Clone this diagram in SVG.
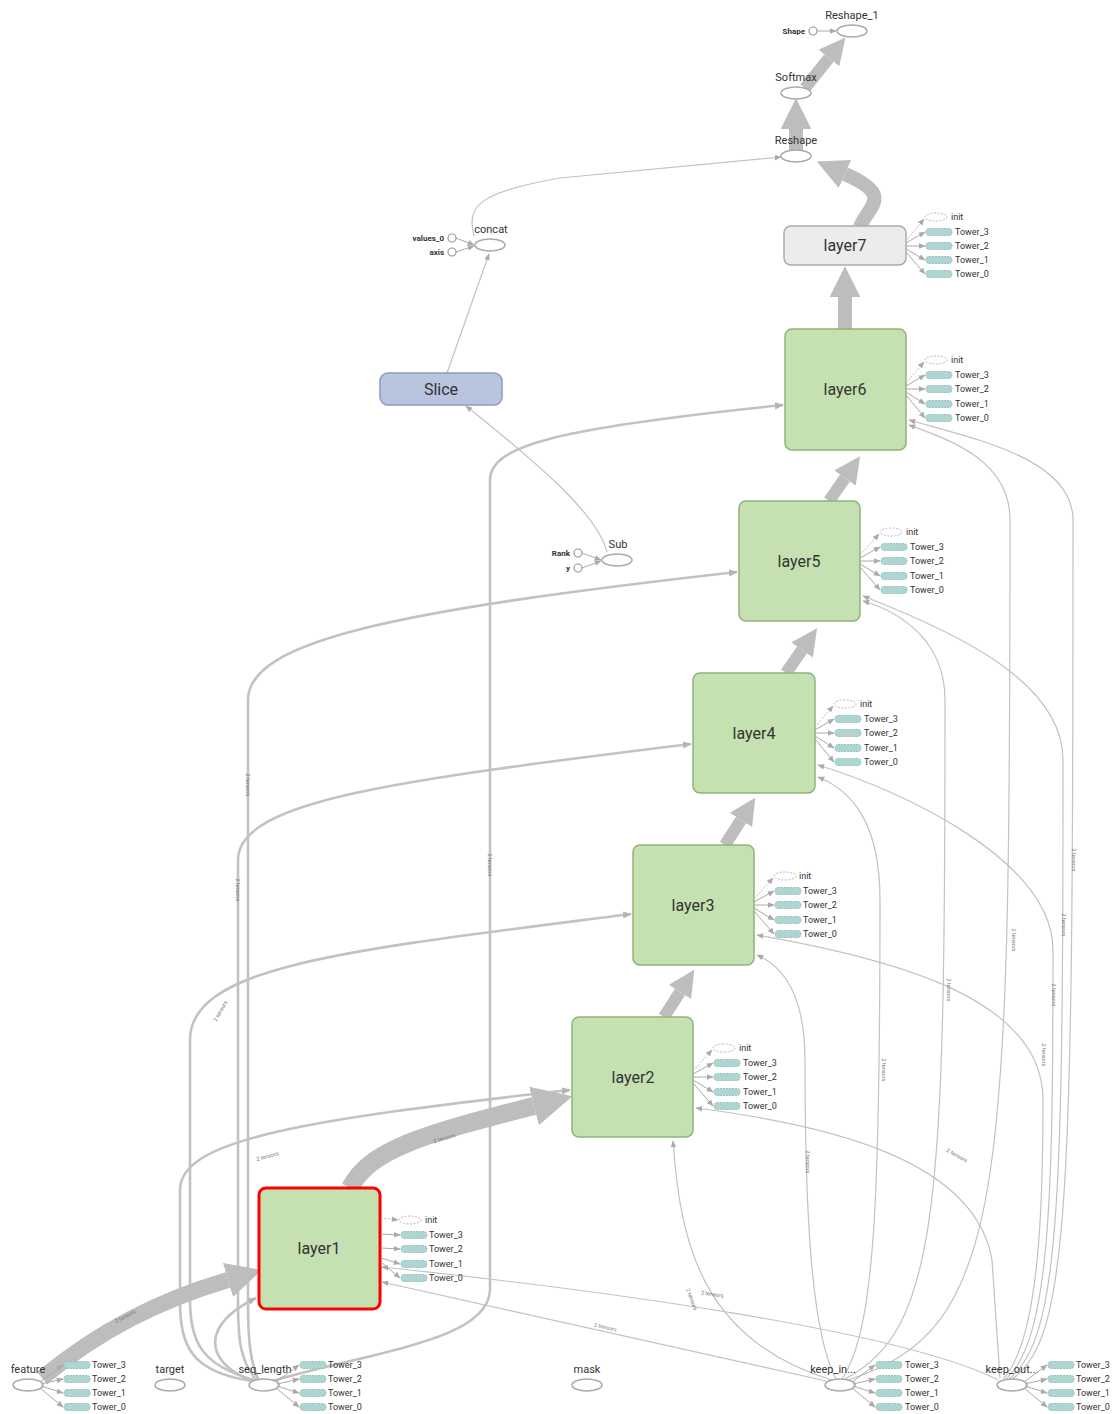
<svg xmlns="http://www.w3.org/2000/svg" width="1117" height="1414" viewBox="0 0 1117 1414">
<defs>
<style>
text{font-family:Roboto,"Liberation Sans",sans-serif;fill:#333}
.big{font-size:16px;text-anchor:middle}
.lbl{font-size:11px;text-anchor:middle}
.sm{font-size:9px}
.smr{font-size:8px;text-anchor:end}
.el{font-size:5.5px;fill:#777;text-anchor:middle}
.op{fill:#fff;stroke:#aaa;stroke-width:1.5}
.dot{fill:#fff;stroke:#999;stroke-width:1.2}
.layer{fill:#c6e1b1;stroke:#8eb379;stroke-width:1.5}
.init{fill:#fff;stroke:#bbb;stroke-width:1;stroke-dasharray:2 1.5}
.tw{fill:#afd5d3;stroke:#94c3c1;stroke-width:1;stroke-dasharray:2 1}
.th{fill:none;stroke:#bdbdbd;marker-end:url(#big)}
.e{fill:none;stroke:#c2c2c2;stroke-width:1.2;marker-end:url(#ar)}
.s{fill:none;stroke:#c2c2c2;stroke-width:2.6;marker-end:url(#ar2)}
.ax{fill:none;stroke:#aaa;stroke-width:1;marker-end:url(#ar)}
.axd{fill:none;stroke:#bbb;stroke-width:1;stroke-dasharray:2 1.5;marker-end:url(#ar)}
</style>
<marker id="big" viewBox="0 0 10 10" refX="0" refY="5" markerWidth="2.2" markerHeight="2.2" markerUnits="strokeWidth" orient="auto"><path d="M0,0 L10,5 L0,10 z" fill="#bdbdbd"/></marker>
<marker id="ar" viewBox="0 0 10 10" refX="9" refY="5" markerWidth="7" markerHeight="7" markerUnits="userSpaceOnUse" orient="auto"><path d="M0,1 L10,5 L0,9 z" fill="#aaa"/></marker>
<marker id="ar2" viewBox="0 0 10 10" refX="9" refY="5" markerWidth="9" markerHeight="9" markerUnits="userSpaceOnUse" orient="auto"><path d="M0,1 L10,5 L0,9 z" fill="#b5b5b5"/></marker>
</defs>
<rect width="1117" height="1414" fill="#fff"/>

<g id="connectors">
<path class="s" d="M272,1381 C380,1350 488,1340 490,1290 L490,480 C490,445 560,428 783,405"/>
<path class="s" d="M258,1379 C250,1360 248,1340 248,1300 L248,700 C248,640 400,610 737,572"/>
<path class="s" d="M256,1380 C240,1360 238,1340 238,1300 L238,860 C238,800 400,780 691,744"/>
<path class="s" d="M254,1380 C200,1365 190,1340 190,1300 L190,1040 C190,965 350,950 631,914"/>
<path class="s" d="M252,1381 C190,1372 180,1345 180,1300 L180,1190 C180,1140 300,1120 570,1090"/>
<path class="s" d="M250,1380 C205,1362 200,1325 256,1298"/>
<text class="el" transform="translate(246,785) rotate(90)">2 tensors</text>
<text class="el" transform="translate(236,890) rotate(90)">2 tensors</text>
<text class="el" transform="translate(488,865) rotate(90)">2 tensors</text>
<text class="el" transform="translate(222,1012) rotate(-60)">2 tensors</text>
<text class="el" transform="translate(268,1158) rotate(-15)">2 tensors</text>
<path class="e" d="M826,1381 L382,1282"/>
<path class="e" d="M832,1380 C700,1340 680,1240 673,1141"/>
<path class="e" d="M836,1379 C810,1330 805,1200 805,1060 C805,990 780,965 757,955"/>
<path class="e" d="M842,1379 C875,1330 880,1200 880,900 C880,820 850,790 818,777"/>
<path class="e" d="M845,1379 C940,1330 945,1200 945,700 C945,640 900,612 863,601"/>
<path class="e" d="M848,1380 C1005,1330 1010,1200 1010,520 C1010,460 950,440 909,425"/>
<path class="e" d="M998,1380 C900,1330 600,1290 382,1267"/>
<path class="e" d="M1000,1378 L992,1260 C975,1160 830,1125 696,1108"/>
<path class="e" d="M1003,1379 C1040,1340 1043,1200 1043,1100 C1043,1000 900,960 757,935"/>
<path class="e" d="M1006,1379 C1050,1340 1053,1200 1053,950 C1053,860 900,790 818,765"/>
<path class="e" d="M1009,1379 C1060,1340 1063,1200 1063,760 C1063,680 950,630 863,596"/>
<path class="e" d="M1012,1379 C1070,1340 1073,1200 1073,520 C1073,460 980,440 909,420"/>
<text class="el" transform="translate(605,1329) rotate(13)">2 tensors</text>
<text class="el" transform="translate(712,1296) rotate(8)">2 tensors</text>
<text class="el" transform="translate(690,1300) rotate(70)">2 tensors</text>
<text class="el" transform="translate(956,1157) rotate(30)">2 tensors</text>
<text class="el" transform="translate(806,1162) rotate(90)">2 tensors</text>
<text class="el" transform="translate(882,1070) rotate(90)">2 tensors</text>
<text class="el" transform="translate(947,990) rotate(90)">2 tensors</text>
<text class="el" transform="translate(1012,940) rotate(90)">2 tensors</text>
<text class="el" transform="translate(1042,1055) rotate(90)">2 tensors</text>
<text class="el" transform="translate(1052,995) rotate(90)">2 tensors</text>
<text class="el" transform="translate(1062,925) rotate(90)">2 tensors</text>
<text class="el" transform="translate(1072,860) rotate(90)">2 tensors</text>
<path class="e" d="M474,236 C466,205 480,192 560,178 L781,157"/>
<path class="e" d="M447,373 L489,254"/>
<path class="e" d="M607,552 C598,515 540,465 466,406"/>
<path class="ax" d="M456,238 L474,245"/>
<path class="ax" d="M456,252 L474,246"/>
<path class="ax" d="M582,553 L601,560"/>
<path class="ax" d="M582,568 L601,561"/>
<path class="ax" d="M817,31 L836,31"/>
<path class="th" stroke-width="14" d="M845,329 L845,297"/>
<path class="th" stroke-width="12" d="M829,501 L845,478"/>
<path class="th" stroke-width="12" d="M786,673 L802,650"/>
<path class="th" stroke-width="12" d="M725,845 L741,820"/>
<path class="th" stroke-width="12" d="M664,1017 L680,992"/>
<path class="th" stroke-width="18" d="M350,1188 C370,1150 420,1135 534,1106"/>
<path class="th" stroke-width="16" d="M42,1378 C100,1330 160,1300 228,1280"/>
<path class="th" stroke-width="14" d="M860,227 C868,206 895,196 845,174"/>
<path class="th" stroke-width="14" d="M796,150 L796,129"/>
<path class="th" stroke-width="12" d="M805,88 L829,58"/>
<text class="el" transform="translate(126,1318) rotate(-28)">2 tensors</text>
<text class="el" transform="translate(445,1140) rotate(-17)">2 tensors</text>
</g>

<g id="Reshape_1"><ellipse class="op" cx="852" cy="31" rx="15" ry="6"/><text class="lbl" x="852" y="19">Reshape_1</text></g>
<g id="Shape"><circle class="dot" cx="813" cy="31" r="4"/><text class="smr" x="805" y="34" font-weight="bold">Shape</text></g>
<g id="Softmax"><ellipse class="op" cx="796" cy="93" rx="15" ry="6"/><text class="lbl" x="796" y="81">Softmax</text></g>
<g id="Reshape"><ellipse class="op" cx="796" cy="156" rx="15" ry="6"/><text class="lbl" x="796" y="144">Reshape</text></g>
<g id="concat"><ellipse class="op" cx="490" cy="245" rx="15" ry="6"/><text class="lbl" x="491" y="233">concat</text></g>
<g id="values_0"><circle class="dot" cx="452" cy="238" r="4"/><text class="smr" x="444" y="241" font-weight="bold">values_0</text></g>
<g id="axis"><circle class="dot" cx="452" cy="252" r="4"/><text class="smr" x="444" y="255" font-weight="bold">axis</text></g>
<g id="Slice"><rect x="380" y="373" width="122" height="32" rx="8" fill="#b9c4df" stroke="#8c9bc0" stroke-width="1.5"/><text class="big" x="441" y="395">Slice</text></g>
<g id="Sub"><ellipse class="op" cx="617" cy="560" rx="15" ry="6"/><text class="lbl" x="618" y="548">Sub</text></g>
<g id="Rank"><circle class="dot" cx="578" cy="553" r="4"/><text class="smr" x="570" y="556" font-weight="bold">Rank</text></g>
<g id="y"><circle class="dot" cx="578" cy="568" r="4"/><text class="smr" x="570" y="571" font-weight="bold">y</text></g>

<g id="layer7"><rect x="784" y="226" width="122" height="39" rx="7" fill="#ececec" stroke="#aaa" stroke-width="1.5"/><text class="big" x="845" y="251">layer7</text>
<path class="axd" d="M906,241 L924,219"/><path class="ax" d="M906,243 L925,232"/><path class="ax" d="M906,246 L925,246"/><path class="ax" d="M906,249 L925,260"/><path class="ax" d="M906,252 L925,274"/>
<ellipse class="init" cx="936" cy="217" rx="11" ry="4"/><rect class="tw" x="926" y="228.5" width="26" height="7" rx="3"/><rect class="tw" x="926" y="242.5" width="26" height="7" rx="3"/><rect class="tw" x="926" y="256.5" width="26" height="7" rx="3"/><rect class="tw" x="926" y="270.5" width="26" height="7" rx="3"/>
<text class="sm" x="951" y="220">init</text><text class="sm" x="955" y="235">Tower_3</text><text class="sm" x="955" y="249">Tower_2</text><text class="sm" x="955" y="263">Tower_1</text><text class="sm" x="955" y="277">Tower_0</text></g>

<g id="layer6"><rect class="layer" x="785" y="329" width="121" height="121" rx="7"/><text class="big" x="845" y="395">layer6</text>
<path class="axd" d="M906,383 L924,362"/><path class="ax" d="M906,386 L925,375"/><path class="ax" d="M906,389 L925,389"/><path class="ax" d="M906,392 L925,404"/><path class="ax" d="M906,395 L925,418"/>
<ellipse class="init" cx="936" cy="360" rx="11" ry="4"/><rect class="tw" x="926" y="371.5" width="26" height="7" rx="3"/><rect class="tw" x="926" y="385.5" width="26" height="7" rx="3"/><rect class="tw" x="926" y="400.5" width="26" height="7" rx="3"/><rect class="tw" x="926" y="414.5" width="26" height="7" rx="3"/>
<text class="sm" x="951" y="363">init</text><text class="sm" x="955" y="378">Tower_3</text><text class="sm" x="955" y="392">Tower_2</text><text class="sm" x="955" y="407">Tower_1</text><text class="sm" x="955" y="421">Tower_0</text></g>

<g id="layer5"><rect class="layer" x="739" y="501" width="121" height="120" rx="7"/><text class="big" x="799" y="567">layer5</text>
<path class="axd" d="M860,555 L879,534"/><path class="ax" d="M860,558 L880,547"/><path class="ax" d="M860,561 L880,561"/><path class="ax" d="M860,564 L880,576"/><path class="ax" d="M860,567 L880,590"/>
<ellipse class="init" cx="891" cy="532" rx="11" ry="4"/><rect class="tw" x="881" y="543.5" width="26" height="7" rx="3"/><rect class="tw" x="881" y="557.5" width="26" height="7" rx="3"/><rect class="tw" x="881" y="572.5" width="26" height="7" rx="3"/><rect class="tw" x="881" y="586.5" width="26" height="7" rx="3"/>
<text class="sm" x="906" y="535">init</text><text class="sm" x="910" y="550">Tower_3</text><text class="sm" x="910" y="564">Tower_2</text><text class="sm" x="910" y="579">Tower_1</text><text class="sm" x="910" y="593">Tower_0</text></g>

<g id="layer4"><rect class="layer" x="693" y="673" width="122" height="120" rx="7"/><text class="big" x="754" y="739">layer4</text>
<path class="axd" d="M815,727 L833,706"/><path class="ax" d="M815,730 L834,719"/><path class="ax" d="M815,733 L834,733"/><path class="ax" d="M815,736 L834,748"/><path class="ax" d="M815,739 L834,762"/>
<ellipse class="init" cx="845" cy="704" rx="11" ry="4"/><rect class="tw" x="835" y="715.5" width="26" height="7" rx="3"/><rect class="tw" x="835" y="729.5" width="26" height="7" rx="3"/><rect class="tw" x="835" y="744.5" width="26" height="7" rx="3"/><rect class="tw" x="835" y="758.5" width="26" height="7" rx="3"/>
<text class="sm" x="860" y="707">init</text><text class="sm" x="864" y="722">Tower_3</text><text class="sm" x="864" y="736">Tower_2</text><text class="sm" x="864" y="751">Tower_1</text><text class="sm" x="864" y="765">Tower_0</text></g>

<g id="layer3"><rect class="layer" x="633" y="845" width="121" height="120" rx="7"/><text class="big" x="693" y="911">layer3</text>
<path class="axd" d="M754,899 L773,878"/><path class="ax" d="M754,902 L774,891"/><path class="ax" d="M754,905 L774,905"/><path class="ax" d="M754,908 L774,920"/><path class="ax" d="M754,911 L774,934"/>
<ellipse class="init" cx="785" cy="876" rx="11" ry="4"/><rect class="tw" x="775" y="887.5" width="26" height="7" rx="3"/><rect class="tw" x="775" y="901.5" width="26" height="7" rx="3"/><rect class="tw" x="775" y="916.5" width="26" height="7" rx="3"/><rect class="tw" x="775" y="930.5" width="26" height="7" rx="3"/>
<text class="sm" x="799" y="879">init</text><text class="sm" x="803" y="894">Tower_3</text><text class="sm" x="803" y="908">Tower_2</text><text class="sm" x="803" y="923">Tower_1</text><text class="sm" x="803" y="937">Tower_0</text></g>

<g id="layer2"><rect class="layer" x="572" y="1017" width="121" height="120" rx="7"/><text class="big" x="633" y="1083">layer2</text>
<path class="axd" d="M693,1071 L712,1050"/><path class="ax" d="M693,1074 L713,1063"/><path class="ax" d="M693,1077 L713,1077"/><path class="ax" d="M693,1080 L713,1092"/><path class="ax" d="M693,1083 L713,1106"/>
<ellipse class="init" cx="724" cy="1048" rx="11" ry="4"/><rect class="tw" x="714" y="1059.5" width="26" height="7" rx="3"/><rect class="tw" x="714" y="1073.5" width="26" height="7" rx="3"/><rect class="tw" x="714" y="1088.5" width="26" height="7" rx="3"/><rect class="tw" x="714" y="1102.5" width="26" height="7" rx="3"/>
<text class="sm" x="739" y="1051">init</text><text class="sm" x="743" y="1066">Tower_3</text><text class="sm" x="743" y="1080">Tower_2</text><text class="sm" x="743" y="1095">Tower_1</text><text class="sm" x="743" y="1109">Tower_0</text></g>

<g id="layer1"><rect x="259" y="1188" width="121" height="121" rx="7" fill="#c6e1b1" stroke="#ff0000" stroke-width="3"/><text class="big" x="319" y="1254">layer1</text>
<path class="axd" d="M381,1218 L398,1220"/><path class="ax" d="M381,1234 L400,1235"/><path class="ax" d="M381,1248 L400,1249"/><path class="ax" d="M381,1258 L400,1264"/><path class="ax" d="M381,1262 L400,1278"/>
<ellipse class="init" cx="410" cy="1220" rx="11" ry="4"/><rect class="tw" x="401" y="1231.5" width="26" height="7" rx="3"/><rect class="tw" x="401" y="1245.5" width="26" height="7" rx="3"/><rect class="tw" x="401" y="1260.5" width="26" height="7" rx="3"/><rect class="tw" x="401" y="1274.5" width="26" height="7" rx="3"/>
<text class="sm" x="425" y="1223">init</text><text class="sm" x="429" y="1238">Tower_3</text><text class="sm" x="429" y="1252">Tower_2</text><text class="sm" x="429" y="1267">Tower_1</text><text class="sm" x="429" y="1281">Tower_0</text></g>

<g id="feature"><ellipse class="op" cx="28" cy="1385" rx="15" ry="6"/><text class="lbl" x="28" y="1373">feature</text>
<path class="ax" d="M40,1382 L63,1365"/><path class="ax" d="M41,1384 L63,1379"/><path class="ax" d="M41,1386 L63,1393"/><path class="ax" d="M40,1388 L63,1407"/>
<rect class="tw" x="64" y="1361.5" width="26" height="7" rx="3"/><rect class="tw" x="64" y="1375.5" width="26" height="7" rx="3"/><rect class="tw" x="64" y="1389.5" width="26" height="7" rx="3"/><rect class="tw" x="64" y="1403.5" width="26" height="7" rx="3"/>
<text class="sm" x="92" y="1368">Tower_3</text><text class="sm" x="92" y="1382">Tower_2</text><text class="sm" x="92" y="1396">Tower_1</text><text class="sm" x="92" y="1410">Tower_0</text></g>

<g id="target"><ellipse class="op" cx="170" cy="1385" rx="15" ry="6"/><text class="lbl" x="170" y="1373">target</text></g>

<g id="seq_length"><ellipse class="op" cx="264" cy="1385" rx="15" ry="6"/><text class="lbl" x="265" y="1373">seq_length</text>
<path class="ax" d="M276,1382 L299,1365"/><path class="ax" d="M277,1384 L299,1379"/><path class="ax" d="M277,1386 L299,1393"/><path class="ax" d="M276,1388 L299,1407"/>
<rect class="tw" x="300" y="1361.5" width="26" height="7" rx="3"/><rect class="tw" x="300" y="1375.5" width="26" height="7" rx="3"/><rect class="tw" x="300" y="1389.5" width="26" height="7" rx="3"/><rect class="tw" x="300" y="1403.5" width="26" height="7" rx="3"/>
<text class="sm" x="328" y="1368">Tower_3</text><text class="sm" x="328" y="1382">Tower_2</text><text class="sm" x="328" y="1396">Tower_1</text><text class="sm" x="328" y="1410">Tower_0</text></g>

<g id="mask"><ellipse class="op" cx="587" cy="1385" rx="15" ry="6"/><text class="lbl" x="587" y="1373">mask</text></g>

<g id="keep_in"><ellipse class="op" cx="840" cy="1385" rx="15" ry="6"/><text class="lbl" x="833" y="1373">keep_in...</text>
<path class="ax" d="M852,1382 L875,1365"/><path class="ax" d="M853,1384 L875,1379"/><path class="ax" d="M853,1386 L875,1393"/><path class="ax" d="M852,1388 L875,1407"/>
<rect class="tw" x="876" y="1361.5" width="26" height="7" rx="3"/><rect class="tw" x="876" y="1375.5" width="26" height="7" rx="3"/><rect class="tw" x="876" y="1389.5" width="26" height="7" rx="3"/><rect class="tw" x="876" y="1403.5" width="26" height="7" rx="3"/>
<text class="sm" x="905" y="1368">Tower_3</text><text class="sm" x="905" y="1382">Tower_2</text><text class="sm" x="905" y="1396">Tower_1</text><text class="sm" x="905" y="1410">Tower_0</text></g>

<g id="keep_out"><ellipse class="op" cx="1012" cy="1385" rx="15" ry="6"/><text class="lbl" x="1012" y="1373">keep_out...</text>
<path class="ax" d="M1024,1382 L1047,1365"/><path class="ax" d="M1025,1384 L1047,1379"/><path class="ax" d="M1025,1386 L1047,1393"/><path class="ax" d="M1024,1388 L1047,1407"/>
<rect class="tw" x="1048" y="1361.5" width="26" height="7" rx="3"/><rect class="tw" x="1048" y="1375.5" width="26" height="7" rx="3"/><rect class="tw" x="1048" y="1389.5" width="26" height="7" rx="3"/><rect class="tw" x="1048" y="1403.5" width="26" height="7" rx="3"/>
<text class="sm" x="1076" y="1368">Tower_3</text><text class="sm" x="1076" y="1382">Tower_2</text><text class="sm" x="1076" y="1396">Tower_1</text><text class="sm" x="1076" y="1410">Tower_0</text></g>
</svg>
